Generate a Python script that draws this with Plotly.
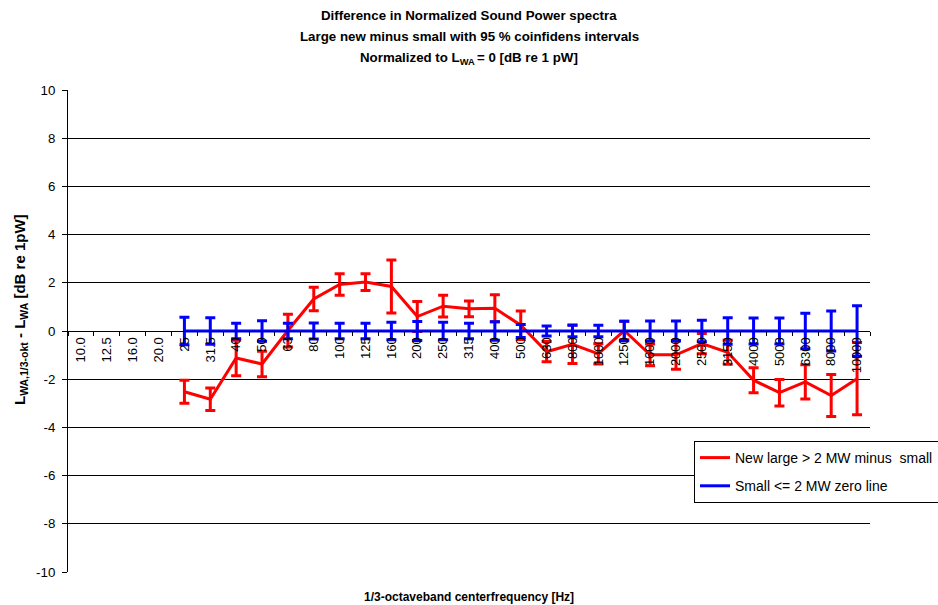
import plotly.graph_objects as go

categories = ["10.0", "12.5", "16.0", "20.0", "25", "31.5", "40", "50", "63", "80", "100",
              "125", "160", "200", "250", "315", "400", "500", "630", "800", "1000",
              "1250", "1600", "2000", "2500", "3150", "4000", "5000", "6300", "8000", "10000"]

data_bands = categories[4:]

large_minus_small = [-2.52, -2.83, -1.12, -1.37, 0.02, 1.33, 1.93, 2.03, 1.85, 0.60, 1.03,
                     0.92, 0.94, 0.24, -0.86, -0.55, -0.95, 0.02, -0.99, -0.99, -0.52,
                     -0.88, -2.04, -2.56, -2.11, -2.68, -1.98]
large_ci = [0.48, 0.47, 0.74, 0.53, 0.68, 0.49, 0.45, 0.35, 1.10, 0.62, 0.45,
            0.33, 0.56, 0.59, 0.42, 0.80, 0.42, 0.38, 0.45, 0.60, 0.42,
            0.50, 0.52, 0.55, 0.71, 0.87, 1.50]

small_zero = [0.0] * len(data_bands)
small_ci = [0.57, 0.55, 0.32, 0.43, 0.32, 0.33, 0.32, 0.32, 0.36, 0.39, 0.36,
            0.32, 0.38, 0.27, 0.21, 0.24, 0.24, 0.40, 0.42, 0.42, 0.45,
            0.55, 0.54, 0.54, 0.74, 0.83, 1.05]

y_tick_values = [-10, -8, -6, -4, -2, 0, 2, 4, 6, 8, 10]
y_tick_labels = ["-10", "-8", "-6", "-4", "-2", "0", "2", "4", "6", "8", "10"]

title_lines = [
    "<b>Difference in Normalized Sound Power spectra</b>",
    "<b>Large new minus small with 95 % coinfidens intervals</b>",
    "<b>Normalized to L<sub>WA </sub>= 0 [dB re 1 pW]</b>",
]

fig = go.Figure()
fig.add_trace(go.Scatter(
    x=data_bands, y=large_minus_small, mode="lines",
    name="New large > 2 MW minus\u00a0 small", legendgroup="a",
    line=dict(color="#ff0000", width=3),
    error_y=dict(type="data", array=large_ci, visible=True, color="#ff0000",
                 thickness=3, width=5),
))
fig.add_trace(go.Scatter(
    x=data_bands, y=small_zero, mode="lines",
    name="Small <= 2 MW zero line", legendgroup="b",
    line=dict(color="#0000ff", width=3),
    error_y=dict(type="data", array=small_ci, visible=True, color="#0000ff",
                 thickness=3, width=5),
))

font_family = "Liberation Sans, Arial, sans-serif"
plot_w = 938 - 68 - 68
plot_h = 605 - 90 - 33

annotations = []
for line, px_above in zip(title_lines, [75, 53, 32]):
    annotations.append(dict(
        text=line, xref="paper", yref="paper", x=0.5, y=1 + px_above / plot_h,
        xanchor="center", yanchor="middle", showarrow=False,
        font=dict(size=13.3, family=font_family, color="black"),
    ))
annotations.append(dict(
    text="<b>1/3-octaveband centerfrequency [Hz]</b>",
    xref="paper", yref="paper", x=0.5, y=-25 / plot_h, yanchor="middle",
    showarrow=False, font=dict(size=12, family=font_family, color="black"),
))
annotations.append(dict(
    text="<b>L<sub>WA,1/3-okt</sub> - L<sub>WA</sub> [dB re 1pW]</b>",
    xref="paper", yref="paper", x=-48 / plot_w, y=(572 - 310) / plot_h,
    xanchor="center", yanchor="middle", textangle=-90, showarrow=False,
    font=dict(size=15, family=font_family, color="black"),
))

fig.update_layout(
    width=938, height=605, autosize=False,
    margin=dict(l=68, r=68, t=90, b=33, autoexpand=False),
    paper_bgcolor="white", plot_bgcolor="white",
    font=dict(family=font_family, size=13, color="black"),
    xaxis=dict(
        type="category", categoryorder="array", categoryarray=categories,
        range=[-0.5, len(categories) - 0.5],
        anchor="free", position=0.5,
        showline=True, linecolor="black", linewidth=1,
        showgrid=False, zeroline=False,
        ticks="outside", tickson="boundaries", ticklen=4, tickcolor="black",
        tickangle=-90, tickfont=dict(size=13),
    ),
    yaxis=dict(
        range=[-10, 10], tickvals=y_tick_values, ticktext=y_tick_labels,
        showline=True, linecolor="black", linewidth=1,
        showgrid=True, gridcolor="black", gridwidth=1,
        zeroline=False,
        ticks="outside", ticklen=5, tickcolor="black", ticklabelstandoff=4,
        tickfont=dict(size=13.3),
    ),
    legend=dict(
        x=(694 - 68) / plot_w, xanchor="left",
        y=(572 - 441) / plot_h, yanchor="top",
        bgcolor="white", bordercolor="black", borderwidth=1,
        font=dict(size=14), tracegroupgap=7, itemwidth=30,
    ),
    annotations=annotations,
)

fig.write_html(
    "out.html",
    config={"displayModeBar": False, "responsive": False},
    post_script=("document.body.style.margin='0';"
                 "document.body.style.overflow='hidden';"
                 "document.documentElement.style.overflow='hidden';"
                 "Plotly.relayout('{plot_id}', {width: 938, height: 605});"),
)
